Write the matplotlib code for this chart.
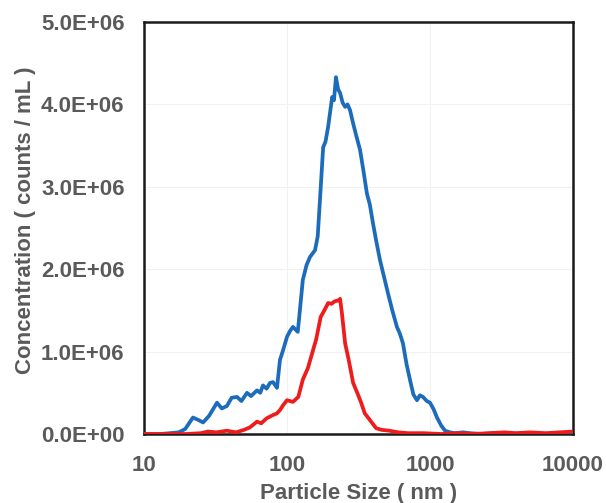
import matplotlib
matplotlib.use("Agg")
import matplotlib.pyplot as plt
from matplotlib.ticker import FixedLocator, FuncFormatter

# Particle size (nm) and concentration (counts/mL, in millions)
blue_size = [10, 13, 15.2, 17.5, 19.4, 22.0, 24.0, 25.9, 28.5, 32.4, 35.0, 38.0, 41.0,
             44.7, 48.0, 52.5, 56.0, 61.7, 65.0, 67.9, 72.0, 76.0, 79.8, 85.1, 89.3,
             94.0, 100, 105, 110, 119, 129, 137, 145, 157, 164, 170, 179, 186, 194,
             200, 207, 213, 220, 228, 235, 245, 255, 265, 276, 290, 305, 324, 342,
             362, 380, 399, 420, 447, 475, 508, 545, 587, 615, 647, 685, 724, 765,
             811, 850, 893, 950, 1000, 1060, 1119, 1200, 1274, 1380, 1496, 1700,
             1905, 2300, 2800, 3500, 4500, 6000, 8000, 10000]
blue_conc = [0.0, 0.0, 0.01, 0.02, 0.06, 0.20, 0.17, 0.14, 0.22, 0.38, 0.31, 0.34, 0.44,
             0.45, 0.40, 0.50, 0.46, 0.53, 0.50, 0.59, 0.55, 0.62, 0.63, 0.56, 0.90,
             1.02, 1.18, 1.25, 1.30, 1.24, 1.87, 2.05, 2.15, 2.23, 2.40, 2.84, 3.48,
             3.55, 3.73, 3.90, 4.09, 4.05, 4.33, 4.18, 4.14, 4.02, 3.97, 4.00, 3.93,
             3.77, 3.62, 3.45, 3.20, 2.92, 2.78, 2.56, 2.35, 2.11, 1.92, 1.71, 1.50,
             1.30, 1.22, 1.10, 0.85, 0.66, 0.48, 0.41, 0.47, 0.45, 0.40, 0.38, 0.30,
             0.20, 0.10, 0.04, 0.02, 0.01, 0.02, 0.01, 0.0, 0.01, 0.0, 0.01, 0.0,
             0.01, 0.0]

red_size = [10, 15, 20, 25, 28, 32, 38, 44, 50, 55, 61.7, 66, 72, 79.8, 85, 89.3,
            94, 100, 110, 120, 129, 140, 150, 160, 172, 185, 194, 205, 215, 228,
            235, 242, 255, 270, 290, 310, 330, 350, 380, 420, 460, 520, 600, 700,
            900, 1200, 1600, 2000, 2600, 3300, 4000, 5000, 6500, 8000, 10000]
red_conc = [0.0, 0.0, 0.0, 0.01, 0.03, 0.02, 0.04, 0.02, 0.05, 0.08, 0.15, 0.13, 0.19,
            0.23, 0.25, 0.29, 0.35, 0.41, 0.39, 0.45, 0.66, 0.80, 0.98, 1.15, 1.42,
            1.52, 1.59, 1.58, 1.61, 1.62, 1.64, 1.47, 1.10, 0.90, 0.62, 0.50, 0.38,
            0.25, 0.17, 0.07, 0.05, 0.04, 0.02, 0.01, 0.01, 0.0, 0.01, 0.0, 0.01,
            0.02, 0.01, 0.02, 0.01, 0.02, 0.03]

x_ticks = [10, 100, 1000, 10000]
y_ticks = [0, 1e6, 2e6, 3e6, 4e6, 5e6]
y_tick_labels = ["0.0E+00", "1.0E+06", "2.0E+06", "3.0E+06", "4.0E+06", "5.0E+06"]

plt.rcParams['font.family'] = ['Liberation Sans', 'DejaVu Sans']
txt = '#5a5a5a'

fig = plt.figure(figsize=(6.06, 5.03), dpi=100)
ax = fig.add_axes([144/606, 1-434/503, (573-144)/606, (434-22)/503])

ax.plot(blue_size, [v*1e6 for v in blue_conc], color='#1d6cbc', lw=2.7, zorder=3)
ax.plot(red_size, [v*1e6 for v in red_conc], color='#ee1c1c', lw=2.7, zorder=4)

ax.set_xscale('log')
ax.set_xlim(10, 10000)
ax.set_ylim(0, 5e6)
ax.xaxis.set_major_locator(FixedLocator(x_ticks))
ax.xaxis.set_minor_locator(FixedLocator([]))
ax.xaxis.set_major_formatter(FuncFormatter(lambda v, p: f"{int(v)}"))
ax.set_yticks(y_ticks)
ax.set_yticklabels(y_tick_labels)

ax.grid(True, color='#f1f1f1', lw=0.8, zorder=0)
ax.set_axisbelow(True)

for s in ax.spines.values():
    s.set_color('#1a1a1a')
    s.set_linewidth(1.8)

ax.tick_params(axis='both', length=0, labelsize=16, labelcolor=txt)
ax.tick_params(axis='y', pad=14)
ax.tick_params(axis='x', pad=15)
for lab in ax.get_xticklabels() + ax.get_yticklabels():
    lab.set_fontweight('bold')

ax.set_xlabel('Particle Size ( nm )', fontsize=16, fontweight='bold', color=txt)
ax.set_ylabel('Concentration ( counts / mL )', fontsize=16, fontweight='bold', color=txt)
ax.xaxis.set_label_coords(0.5, (434-483)/412)
ax.yaxis.set_label_coords((36-144)/429, (434-220)/412)

fig.savefig('out.png', dpi=100)
